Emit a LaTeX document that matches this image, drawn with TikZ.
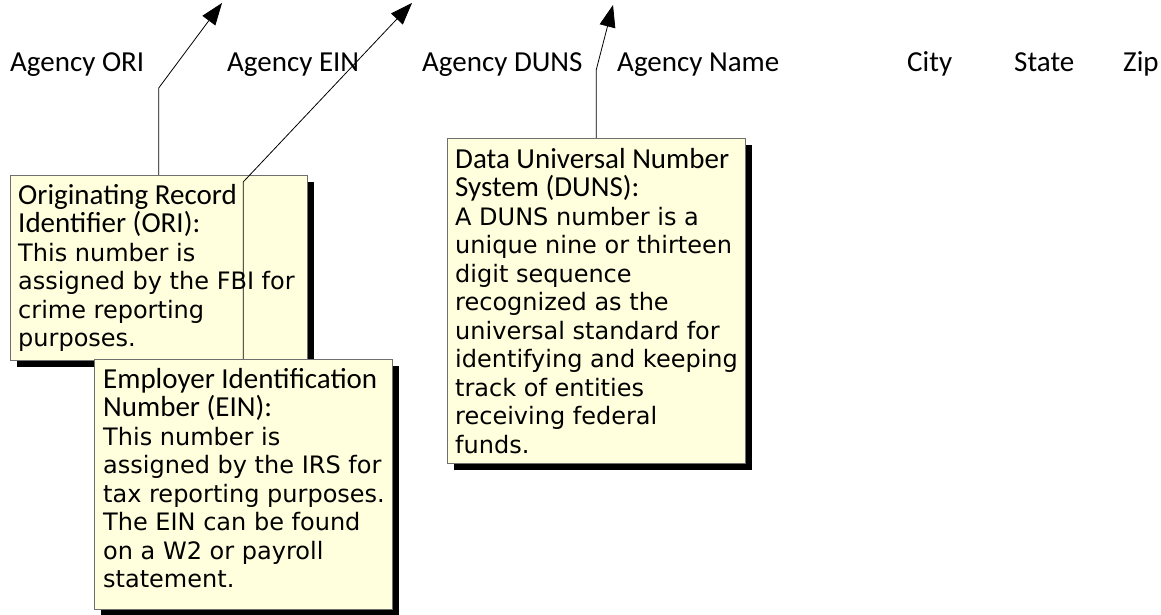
\documentclass[tikz,border=0pt]{standalone}
\usepackage{fontspec}
\usepackage{xcolor}
\usetikzlibrary{positioning,shadows,arrows.meta}
\setmainfont{Carlito}
\newfontfamily\notefont{DejaVu Sans}
\definecolor{notefill}{HTML}{FFFFDD}
\definecolor{noteline}{HTML}{6F6F6F}
\newcommand\ttl[1]{{\rmfamily\fontsize{29}{30}\selectfont #1}}

\begin{document}
\begin{tikzpicture}[x=1pt,y=1pt,
	field/.style={anchor=base west,inner sep=0pt,font=\fontsize{29}{34}\selectfont},
	note/.style={draw=noteline,fill=notefill,anchor=north west,inner sep=0pt,
		drop shadow={shadow xshift=7pt,shadow yshift=-7pt,fill=black,opacity=1}},
	notetext/.style={inner sep=0pt,align=left,font=\notefont\fontsize{24}{28.5}\selectfont},
	pointer/.style={-{Triangle[length=22pt,width=16pt]},line width=0.8pt}]
			\useasboundingbox (0,0) rectangle (1161,615);
			\node[field] (ori-f) at (10,543) {Agency ORI};
			\node[field] (ein-f) at (227,543) {Agency EIN};
			\node[field] (duns-f) at (422,543) {Agency DUNS};
			\node[field] (name-f) at (617,543) {Agency Name};
			\node[field] (city-f) at (907,543) {City};
			\node[field] (state-f) at (1014,543) {State};
			\node[field] (zip-f) at (1123,543) {Zip};
			\node[note,minimum width=297pt,minimum height=185pt] (ori) at (10,440) {};
			\node[notetext,below right=9pt and 8pt of ori.north west] (ori-t) {\ttl{Originating Record}\\\ttl{Identifier (ORI):}\\This number is\\assigned by the FBI for\\crime reporting\\purposes.};
			\node[note,minimum width=298pt,minimum height=250pt] (ein) at (94,256) {};
			\node[notetext,below right=9pt and 9pt of ein.north west] (ein-t) {\ttl{Employer Identification}\\\ttl{Number (EIN):}\\This number is\\assigned by the IRS for\\tax reporting purposes.\\The EIN can be found\\on a W2 or payroll\\statement.};
			\node[note,minimum width=298pt,minimum height=325pt] (duns) at (447,477) {};
			\node[notetext,below right=10pt and 8pt of duns.north west] (duns-t) {\ttl{Data Universal Number}\\\ttl{System (DUNS):}\\A DUNS number is a\\unique nine or thirteen\\digit sequence\\recognized as the\\universal standard for\\identifying and keeping\\track of entities\\receiving federal\\funds.};
			\coordinate (ori-tip) at (222,612);
			\coordinate (ein-tip) at (412,612);
			\coordinate (duns-tip) at (613,610);
			\draw[pointer] (ori.north) -- ++(0,87) -- (ori-tip);
			\draw[pointer] (ein.north) -- ++(0,177) -- (ein-tip);
			\draw[pointer] (duns.north) -- ++(0,68) -- (duns-tip);
		\end{tikzpicture}
\end{document}
